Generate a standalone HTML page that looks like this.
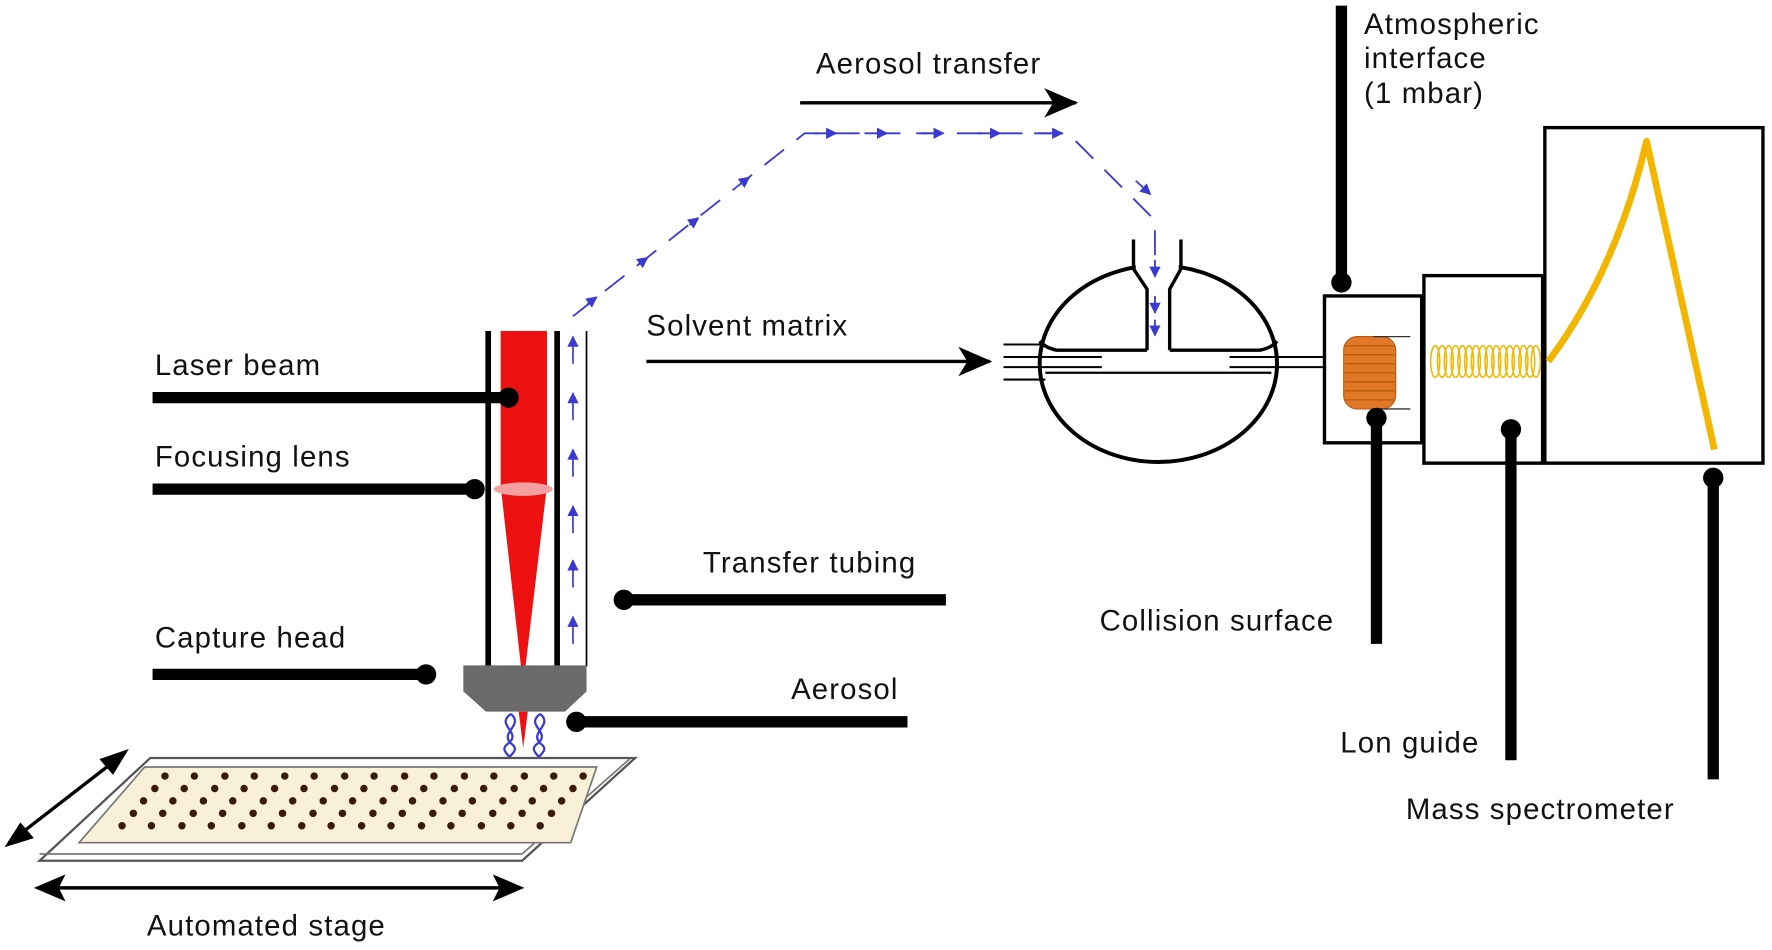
<!DOCTYPE html>
<html><head><meta charset="utf-8"><style>
html,body{margin:0;padding:0;background:#fff;}
svg{display:block;}
text{font-family:"Liberation Sans",Arial,sans-serif;font-size:26px;letter-spacing:1px;fill:#111;}
</style></head><body>
<svg width="1772" height="950" viewBox="0 0 1568 841" preserveAspectRatio="none" xmlns="http://www.w3.org/2000/svg">
<defs>
<marker id="ah" markerWidth="10" markerHeight="10" refX="9" refY="5" orient="auto" markerUnits="userSpaceOnUse"><path d="M0,0 L10,5 L0,10 Z" fill="#3a3ad0"/></marker>
<marker id="bh" markerWidth="30" markerHeight="26" refX="28" refY="13" orient="auto" markerUnits="userSpaceOnUse"><path d="M0,0 L30,13 L0,26 L8,13 Z" fill="#000"/></marker>
</defs>

<text x="722" y="65">Aerosol transfer</text>
<line x1="708" y1="91" x2="952" y2="91" stroke="#000" stroke-width="3" marker-end="url(#bh)"/>

<g stroke="#3a3ad0" stroke-width="1.6" fill="none" stroke-dasharray="22,14">
<path d="M507,280 L712,118 L945,118 L1022,195 L1022,298"/>
</g>
<g stroke="#3a3ad0" stroke-width="1.6" marker-end="url(#ah)">
<line x1="520" y1="269" x2="528" y2="263"/><line x1="565" y1="234" x2="573" y2="228"/><line x1="610" y1="199" x2="618" y2="193"/><line x1="655" y1="163" x2="663" y2="157"/>
<line x1="720" y1="118" x2="740" y2="118"/><line x1="765" y1="118" x2="785" y2="118"/><line x1="815" y1="118" x2="835" y2="118"/><line x1="865" y1="118" x2="885" y2="118"/><line x1="915" y1="118" x2="940" y2="118"/>
<line x1="1005" y1="160" x2="1018" y2="172"/>
</g>

<rect x="443" y="293" width="41" height="138" fill="#ee1111"/>
<polygon points="443,430 484,430 465,590 461,590" fill="#ee1111"/>
<polygon points="459,630 467,630 463,662" fill="#ee1111"/>
<ellipse cx="463" cy="433" rx="26" ry="6" fill="#f4a0a0"/>
<line x1="432" y1="293" x2="432" y2="590" stroke="#000" stroke-width="5"/>
<line x1="493" y1="293" x2="493" y2="590" stroke="#000" stroke-width="5"/>
<line x1="519" y1="293" x2="519" y2="590" stroke="#000" stroke-width="1.5"/>
<g stroke="#3a3ad0" stroke-width="1.5" marker-end="url(#ah)">
<line x1="507" y1="322" x2="507" y2="298"/><line x1="507" y1="372" x2="507" y2="348"/><line x1="507" y1="422" x2="507" y2="398"/><line x1="507" y1="472" x2="507" y2="448"/><line x1="507" y1="520" x2="507" y2="496"/><line x1="507" y1="570" x2="507" y2="546"/>
</g>
<polygon points="410,589 519,589 519,612 500,630 430,630 410,612" fill="#6a6a6a"/>
<g stroke="#3a3ad0" stroke-width="2" fill="none">
<path d="M452,632 C438,642 462,648 450,658 C438,666 460,670 450,680 M452,632 C464,642 442,648 452,658 C464,666 442,670 450,680"/>
<path d="M478,632 C464,642 488,648 476,658 C464,666 486,670 476,680 M478,632 C490,642 468,648 478,658 C490,666 468,670 476,680"/>
</g>

<polygon points="133,671 562,671 462,762 35,762" fill="#fff" stroke="#555" stroke-width="2"/>
<line x1="35" y1="756" x2="462" y2="756" stroke="#777" stroke-width="1.5"/>
<line x1="462" y1="756" x2="557" y2="672" stroke="#777" stroke-width="1.5"/>
<polygon points="128,679 528,679 505,746 70,746" fill="#f8f1d8" stroke="#777" stroke-width="1.5"/>
<g fill="#3a1a0a">
<circle cx="146" cy="687" r="3.3"/><circle cx="172" cy="687" r="3.3"/><circle cx="199" cy="687" r="3.3"/><circle cx="225" cy="687" r="3.3"/><circle cx="252" cy="687" r="3.3"/><circle cx="278" cy="687" r="3.3"/><circle cx="305" cy="687" r="3.3"/><circle cx="331" cy="687" r="3.3"/><circle cx="358" cy="687" r="3.3"/><circle cx="384" cy="687" r="3.3"/><circle cx="411" cy="687" r="3.3"/><circle cx="437" cy="687" r="3.3"/><circle cx="464" cy="687" r="3.3"/><circle cx="490" cy="687" r="3.3"/><circle cx="516" cy="687" r="3.3"/>
<circle cx="137" cy="698" r="3.3"/><circle cx="163" cy="698" r="3.3"/><circle cx="190" cy="698" r="3.3"/><circle cx="216" cy="698" r="3.3"/><circle cx="243" cy="698" r="3.3"/><circle cx="269" cy="698" r="3.3"/><circle cx="296" cy="698" r="3.3"/><circle cx="322" cy="698" r="3.3"/><circle cx="349" cy="698" r="3.3"/><circle cx="375" cy="698" r="3.3"/><circle cx="402" cy="698" r="3.3"/><circle cx="428" cy="698" r="3.3"/><circle cx="455" cy="698" r="3.3"/><circle cx="481" cy="698" r="3.3"/><circle cx="507" cy="698" r="3.3"/>
<circle cx="127" cy="709" r="3.3"/><circle cx="153" cy="709" r="3.3"/><circle cx="180" cy="709" r="3.3"/><circle cx="206" cy="709" r="3.3"/><circle cx="233" cy="709" r="3.3"/><circle cx="259" cy="709" r="3.3"/><circle cx="286" cy="709" r="3.3"/><circle cx="312" cy="709" r="3.3"/><circle cx="339" cy="709" r="3.3"/><circle cx="365" cy="709" r="3.3"/><circle cx="392" cy="709" r="3.3"/><circle cx="418" cy="709" r="3.3"/><circle cx="445" cy="709" r="3.3"/><circle cx="471" cy="709" r="3.3"/><circle cx="497" cy="709" r="3.3"/>
<circle cx="118" cy="720" r="3.3"/><circle cx="144" cy="720" r="3.3"/><circle cx="171" cy="720" r="3.3"/><circle cx="197" cy="720" r="3.3"/><circle cx="224" cy="720" r="3.3"/><circle cx="250" cy="720" r="3.3"/><circle cx="277" cy="720" r="3.3"/><circle cx="303" cy="720" r="3.3"/><circle cx="330" cy="720" r="3.3"/><circle cx="356" cy="720" r="3.3"/><circle cx="383" cy="720" r="3.3"/><circle cx="409" cy="720" r="3.3"/><circle cx="436" cy="720" r="3.3"/><circle cx="462" cy="720" r="3.3"/><circle cx="488" cy="720" r="3.3"/>
<circle cx="108" cy="731" r="3.3"/><circle cx="134" cy="731" r="3.3"/><circle cx="161" cy="731" r="3.3"/><circle cx="187" cy="731" r="3.3"/><circle cx="214" cy="731" r="3.3"/><circle cx="240" cy="731" r="3.3"/><circle cx="267" cy="731" r="3.3"/><circle cx="293" cy="731" r="3.3"/><circle cx="320" cy="731" r="3.3"/><circle cx="346" cy="731" r="3.3"/><circle cx="373" cy="731" r="3.3"/><circle cx="399" cy="731" r="3.3"/><circle cx="426" cy="731" r="3.3"/><circle cx="452" cy="731" r="3.3"/><circle cx="478" cy="731" r="3.3"/>
</g>
<line x1="8" y1="746" x2="110" y2="667" stroke="#000" stroke-width="3"/>
<path d="M4,750 L30,742 L18,728 Z" fill="#000"/>
<path d="M114,663 L88,672 L100,686 Z" fill="#000"/>
<line x1="36" y1="786" x2="458" y2="786" stroke="#000" stroke-width="3"/>
<path d="M30,786 L58,774 L52,786 L58,798 Z" fill="#000"/>
<path d="M464,786 L436,774 L442,786 L436,798 Z" fill="#000"/>
<text x="130" y="828">Automated stage</text>

<g stroke="#000" stroke-width="10">
<line x1="135" y1="352" x2="450" y2="352"/>
<line x1="135" y1="433" x2="420" y2="433"/>
<line x1="135" y1="597" x2="377" y2="597"/>
<line x1="552" y1="531" x2="837" y2="531"/>
<line x1="510" y1="639" x2="803" y2="639"/>
</g>
<g fill="#000">
<circle cx="450" cy="352" r="9"/><circle cx="420" cy="433" r="9"/><circle cx="377" cy="597" r="9"/><circle cx="552" cy="531" r="9"/><circle cx="510" cy="639" r="9"/>
</g>
<text x="137" y="332">Laser beam</text>
<text x="137" y="413">Focusing lens</text>
<text x="137" y="573">Capture head</text>
<text x="622" y="507">Transfer tubing</text>
<text x="700" y="619">Aerosol</text>
<text x="572" y="297">Solvent matrix</text>
<line x1="572" y1="320" x2="876" y2="320" stroke="#000" stroke-width="3" marker-end="url(#bh)"/>

<ellipse cx="1025" cy="322" rx="105" ry="87" fill="#fff" stroke="#000" stroke-width="3.5"/>
<rect x="1005" y="230" width="38" height="20" fill="#fff"/>
<g fill="none" stroke="#000" stroke-width="3">
<path d="M1003,212 L1003,238 L1015,256 L1015,310"/>
<path d="M1045,212 L1045,238 L1035,256 L1035,310"/>
<path d="M1015,310 L935,310 Q925,308 920,302"/>
<path d="M1035,310 L1115,310 Q1125,308 1130,302"/>
<path d="M925,330 L1125,330" stroke-width="2"/>
</g>
<g stroke="#000" stroke-width="1.8">
<line x1="888" y1="305" x2="925" y2="305"/><line x1="888" y1="316" x2="975" y2="316"/><line x1="888" y1="325" x2="975" y2="325"/><line x1="888" y1="336" x2="925" y2="336"/>
<line x1="1088" y1="316" x2="1172" y2="316"/><line x1="1088" y1="325" x2="1172" y2="325"/>
</g>
<g stroke="#3a3ad0" stroke-width="1.6" marker-end="url(#ah)">
<line x1="1022" y1="230" x2="1022" y2="245"/><line x1="1022" y1="262" x2="1022" y2="277"/><line x1="1022" y1="283" x2="1022" y2="297"/>
</g>

<rect x="1172" y="262" width="86" height="130" fill="#fff" stroke="#000" stroke-width="3"/>
<rect x="1260" y="244" width="105" height="166" fill="#fff" stroke="#000" stroke-width="3"/>
<rect x="1367" y="113" width="193" height="297" fill="#fff" stroke="#000" stroke-width="3"/>
<rect x="1189" y="298" width="46" height="64" rx="12" fill="#e07828" stroke="#b85a10" stroke-width="1"/>
<g stroke="#b85a10" stroke-width="1.2">
<line x1="1190" y1="306" x2="1234" y2="306"/><line x1="1190" y1="314" x2="1234" y2="314"/><line x1="1190" y1="322" x2="1234" y2="322"/><line x1="1190" y1="330" x2="1234" y2="330"/><line x1="1190" y1="338" x2="1234" y2="338"/><line x1="1190" y1="346" x2="1234" y2="346"/><line x1="1190" y1="354" x2="1234" y2="354"/>
</g>
<path d="M1215,298 L1248,298 M1215,362 L1248,362" stroke="#333" stroke-width="1.2" fill="none"/>
<g fill="none" stroke="#f0b800" stroke-width="1.4">
<ellipse cx="1270" cy="320" rx="4" ry="14"/><ellipse cx="1276" cy="320" rx="4" ry="14"/><ellipse cx="1282" cy="320" rx="4" ry="14"/><ellipse cx="1288" cy="320" rx="4" ry="14"/><ellipse cx="1294" cy="320" rx="4" ry="14"/><ellipse cx="1300" cy="320" rx="4" ry="14"/><ellipse cx="1306" cy="320" rx="4" ry="14"/><ellipse cx="1312" cy="320" rx="4" ry="14"/><ellipse cx="1318" cy="320" rx="4" ry="14"/><ellipse cx="1324" cy="320" rx="4" ry="14"/><ellipse cx="1330" cy="320" rx="4" ry="14"/><ellipse cx="1336" cy="320" rx="4" ry="14"/><ellipse cx="1342" cy="320" rx="4" ry="14"/><ellipse cx="1348" cy="320" rx="4" ry="14"/><ellipse cx="1354" cy="320" rx="4" ry="14"/><ellipse cx="1359" cy="320" rx="4" ry="14"/>
</g>
<path d="M1370,320 Q1430,240 1457,125 L1517,398" fill="none" stroke="#f2b500" stroke-width="6" stroke-linejoin="round"/>

<g stroke="#000" stroke-width="10">
<line x1="1187" y1="5" x2="1187" y2="250"/>
<line x1="1218" y1="370" x2="1218" y2="570"/>
<line x1="1337" y1="380" x2="1337" y2="673"/>
<line x1="1516" y1="423" x2="1516" y2="690"/>
</g>
<g fill="#000">
<circle cx="1187" cy="250" r="9"/><circle cx="1218" cy="370" r="9"/><circle cx="1337" cy="380" r="9"/><circle cx="1516" cy="423" r="9"/>
</g>
<text x="1207" y="30">Atmospheric</text>
<text x="1207" y="60">interface</text>
<text x="1207" y="91">(1 mbar)</text>
<text x="973" y="558">Collision surface</text>
<text x="1186" y="666">Lon guide</text>
<text x="1244" y="725">Mass spectrometer</text>
</svg>
</body></html>
